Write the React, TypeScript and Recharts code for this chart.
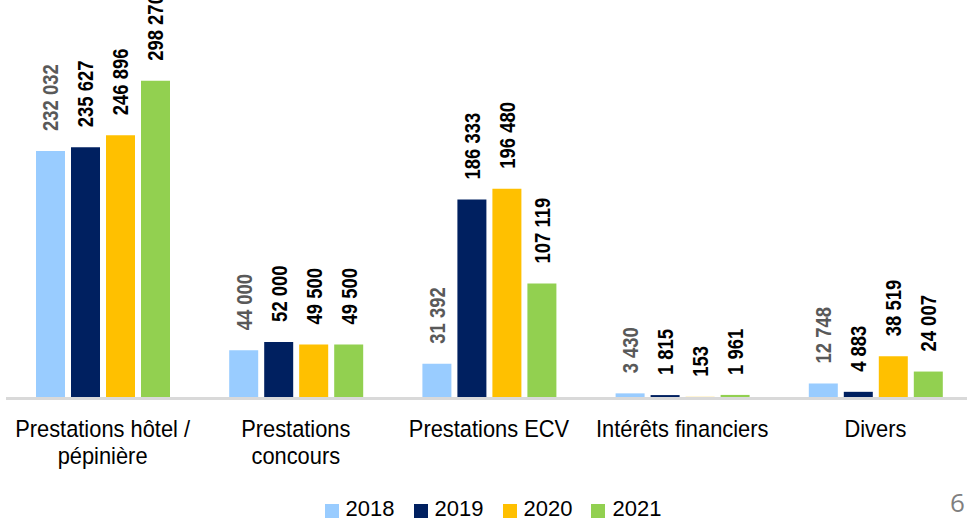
import { BarChart, Bar, XAxis, YAxis, Legend, LabelList } from "recharts";

const categories = [
  "Prestations hôtel /\npépinière",
  "Prestations\nconcours",
  "Prestations ECV",
  "Intérêts financiers",
  "Divers",
];

const values2018 = [232032, 44000, 31392, 3430, 12748];
const values2019 = [235627, 52000, 186333, 1815, 4883];
const values2020 = [246896, 49500, 196480, 153, 38519];
const values2021 = [298270, 49500, 107119, 1961, 24007];

const years = ["2018", "2019", "2020", "2021"];
const yearColors = ["#99CCFF", "#002060", "#FFC000", "#92D050"];
const labelColors = ["#595959", "#000000", "#000000", "#000000"];

const data = categories.map((name, i) => ({
  name,
  y2018: values2018[i],
  y2019: values2019[i],
  y2020: values2020[i],
  y2021: values2021[i],
}));

const FONT = "'Liberation Sans', Arial, sans-serif";

const fmt = (v: number) => String(v).replace(/\B(?=(\d{3})+(?!\d))/g, " ");

function makeValueLabel(color: string) {
  return function ValueLabel(props: any) {
    const { x, y, width, value } = props;
    const fs = 22;
    const cx = Number(x) + Number(width) / 2 + 0.36 * fs;
    const ty = Number(y) - 20;
    return (
      <text
        transform={`translate(${cx},${ty}) rotate(-90) scale(0.84,1)`}
        x={0}
        y={0}
        textAnchor="start"
        fontSize={fs}
        fontWeight="bold"
        fontFamily={FONT}
        fill={color}
      >
        {fmt(value)}
      </text>
    );
  };
}

function CategoryTick(props: any) {
  const { x, y, payload } = props;
  const lines = String(payload.value).split("\n");
  return (
    <g>
      {lines.map((line, i) => (
        <text
          key={i}
          transform={`translate(${x},${y + 40 + i * 27}) scale(0.93,1)`}
          x={0}
          y={0}
          textAnchor="middle"
          fontSize={23.5}
          fontFamily={FONT}
          fill="#000000"
        >
          {line}
        </text>
      ))}
    </g>
  );
}

function YearLegend() {
  return (
    <div
      style={{
        height: 35,
        display: "flex",
        justifyContent: "center",
        alignItems: "center",
        paddingLeft: 8,
        paddingTop: 2,
        boxSizing: "border-box",
        fontFamily: FONT,
        fontSize: 22,
        color: "#000",
      }}
    >
      {years.map((yr, i) => (
        <div
          key={yr}
          style={{
            display: "flex",
            alignItems: "center",
            marginRight: i < years.length - 1 ? 19 : 0,
          }}
        >
          <span
            style={{
              display: "inline-block",
              width: 14,
              height: 14,
              background: yearColors[i],
              marginRight: 7,
              marginTop: 4,
            }}
          />
          <span>{yr}</span>
        </div>
      ))}
    </div>
  );
}

export default function App() {
  return (
    <div
      style={{
        position: "fixed",
        left: 0,
        top: 0,
        width: 967,
        height: 525,
        overflow: "hidden",
        background: "#ffffff",
      }}
    >
      <BarChart
        width={975}
        height={525}
        data={data}
        margin={{ top: 79, right: 3, left: 6, bottom: 0 }}
        barSize={29}
        barGap={6}
      >
        <YAxis hide domain={[0, 300000]} />
        <XAxis
          dataKey="name"
          height={93}
          interval={0}
          tickLine={false}
          tickSize={0}
          tickMargin={0}
          axisLine={{ stroke: "#D9D9D9", strokeWidth: 3, transform: "translate(0 1.5)" }}
          tick={<CategoryTick />}
        />
        <Legend verticalAlign="bottom" content={<YearLegend />} />
        {years.map((yr, i) => (
          <Bar
            key={yr}
            dataKey={`y${yr}`}
            name={yr}
            fill={yearColors[i]}
            isAnimationActive={false}
          >
            <LabelList dataKey={`y${yr}`} content={makeValueLabel(labelColors[i])} />
          </Bar>
        ))}
      </BarChart>
      <div
        style={{
          position: "absolute",
          left: 950,
          top: 484,
          fontSize: 26,
          color: "#7F7F7F",
          fontFamily: "'Open Sans', sans-serif",
        }}
      >
        6
      </div>
    </div>
  );
}
